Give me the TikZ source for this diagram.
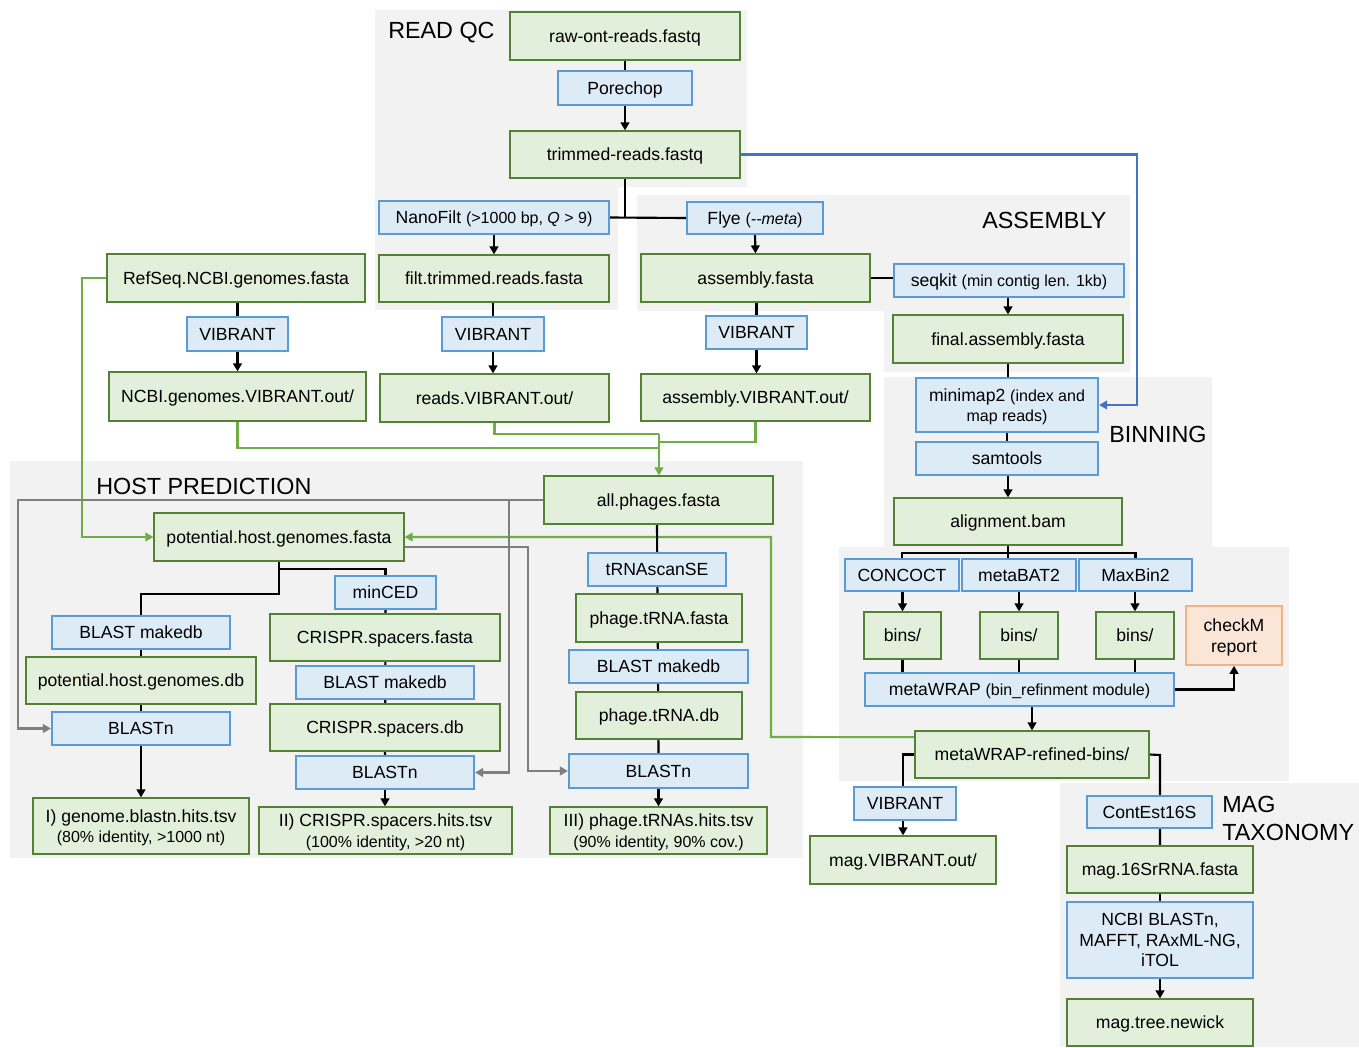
\documentclass[tikz,border=0pt]{standalone}
\usepackage{fontspec}
\setmainfont{Liberation Sans}
\usetikzlibrary{arrows.meta,calc}
\definecolor{gfill}{HTML}{E2EFDA}
\definecolor{gdraw}{HTML}{548235}
\definecolor{bfill}{HTML}{DDEBF7}
\definecolor{bdraw}{HTML}{5B9BD5}
\definecolor{bggray}{HTML}{F2F2F2}
\definecolor{gline}{HTML}{70AD47}
\definecolor{greyline}{HTML}{7F7F7F}
\definecolor{bline}{HTML}{4472C4}
\definecolor{ofill}{HTML}{FBE5D6}
\definecolor{odraw}{HTML}{F4B183}
\newcommand\smtxt{\fontsize{12}{14}\selectfont}
\pgfdeclarelayer{bglayer}
\pgfdeclarelayer{connlayer}
\pgfsetlayers{bglayer,connlayer,main}
\begin{document}
\begin{tikzpicture}[x=0.75pt,y=-0.75pt,
  nbase/.style={rectangle, inner sep=0pt, align=center, text depth=0pt, font=\fontsize{13.2}{15.5}\selectfont, text=black},
  gn/.style={nbase, fill=gfill, draw=gdraw, line width=0.9pt},
  bn/.style={nbase, fill=bfill, draw=bdraw, line width=1.6pt},
  onode/.style={nbase, fill=ofill, draw=odraw, line width=1.2pt},
  wh/.style 2 args={minimum width=#1*0.75pt, minimum height=#2*0.75pt},
  ttl/.style={anchor=west, inner sep=0pt, font=\fontsize{17.5}{21}\selectfont, align=left},
  conn/.style={line width=1.6pt, black},
  arr/.style={-{Triangle[length=6pt,width=6.5pt]}},
  gc/.style={line width=1.6pt, gline},
  gy/.style={line width=1.6pt, greyline},
  bc/.style={line width=1.6pt, bline},
]
\useasboundingbox (0,0) rectangle (1359,1047);
% backgrounds
\begin{pgfonlayer}{bglayer}
\fill[white] (0,0) rectangle (1359,1047);
\fill[bggray] (375,10) -- (747,10) -- (747,187) -- (618,187) -- (618,310) -- (375,310) -- cycle;
\fill[bggray] (637,195) -- (1130,195) -- (1130,372) -- (884,372) -- (884,311) -- (637,311) -- cycle;
\fill[bggray] (884,377) -- (1212,377) -- (1212,547) -- (1289,547) -- (1289,781) -- (839,781) -- (839,547) -- (884,547) -- cycle;
\fill[bggray] (10,461) rectangle (803,858);
\fill[bggray] (1060,783) rectangle (1359,1047);
\end{pgfonlayer}
% titles
\node[ttl] (tqc) at (388,33) {READ QC};
\node[ttl] (tasm) at (982,220) {ASSEMBLY};
\node[ttl] (tbin) at (1109,434) {BINNING};
\node[ttl] (thost) at (96,486) {HOST PREDICTION};
\node[ttl, font=\fontsize{17.5}{21}\selectfont] (tmag) at (1222,818) {MAG\\TAXONOMY};
% read QC / assembly
\node[gn, wh={230}{48}] (raw) at (625,36) {raw-ont-reads.fastq};
\node[bn, wh={134}{34}] (pore) at (625,88) {Porechop};
\node[gn, wh={230}{47}] (trim) at (625,154.5) {trimmed-reads.fastq};
\node[bn, wh={230}{33}] (nano) at (494,217.5) {NanoFilt {\smtxt(>1000 bp, \textit{Q} > 9)}};
\node[gn, wh={230}{47}] (filt) at (494,278.5) {filt.trimmed.reads.fasta};
\node[bn, wh={136}{32}] (flye) at (755,218) {Flye {\smtxt(\textit{-{}-meta})}};
\node[gn, wh={229}{48}] (asm) at (755.5,278) {assembly.fasta};
\node[bn, wh={230}{33}] (seqkit) at (1009,280.5) {seqkit {\smtxt(min contig len. 1kb)}};
\node[gn, wh={230}{48}] (final) at (1008,339) {final.assembly.fasta};
\node[bn, wh={101}{33}] (vibA) at (756.5,332.5) {VIBRANT};
\node[gn, wh={229}{47}] (asmV) at (755.5,397.5) {assembly.VIBRANT.out/};
\node[gn, wh={258}{48}] (refseq) at (236,278) {RefSeq.NCBI.genomes.fasta};
\node[bn, wh={101}{34}] (vibR) at (237.5,334) {VIBRANT};
\node[gn, wh={257}{49}] (ncbiV) at (237.5,396.5) {NCBI.genomes.VIBRANT.out/};
\node[bn, wh={102}{34}] (vibF) at (493,334) {VIBRANT};
\node[gn, wh={229}{48}] (readsV) at (494.5,398) {reads.VIBRANT.out/};
% host prediction
\node[gn, wh={229}{48}] (allph) at (658.5,500) {all.phages.fasta};
\node[gn, wh={250}{48}] (pot) at (279,537) {potential.host.genomes.fasta};
\node[bn, wh={101}{33}] (minced) at (385.5,592.5) {minCED};
\node[gn, wh={230}{47}] (crf) at (385,637.5) {CRISPR.spacers.fasta};
\node[bn, wh={178}{33}] (mkdbC) at (385,682.5) {BLAST makedb};
\node[gn, wh={230}{47}] (crdb) at (385,727.5) {CRISPR.spacers.db};
\node[bn, wh={178}{33}] (blnC) at (385,772.5) {BLASTn};
\node[gn, wh={253}{47}] (hitsC) at (385.5,830.5) {II) CRISPR.spacers.hits.tsv\\{\smtxt(100\% identity, >20 nt)}};
\node[bn, wh={178}{33}] (mkdbL) at (141,632.5) {BLAST makedb};
\node[gn, wh={230}{47}] (potdb) at (141,680.5) {potential.host.genomes.db};
\node[bn, wh={178}{33}] (blnL) at (141,728.5) {BLASTn};
\node[gn, wh={216}{56}] (hitsL) at (141,826) {I) genome.blastn.hits.tsv\\{\smtxt(80\% identity, >1000 nt)}};
\node[bn, wh={138}{33}] (trna) at (657,569.5) {tRNAscanSE};
\node[gn, wh={166}{48}] (trf) at (659,618) {phage.tRNA.fasta};
\node[bn, wh={179}{33}] (mkdbP) at (658.5,666.5) {BLAST makedb};
\node[gn, wh={166}{47}] (trdb) at (659,715.5) {phage.tRNA.db};
\node[bn, wh={179}{34}] (blnP) at (658.5,771) {BLASTn};
\node[gn, wh={217}{47}] (hitsP) at (658.5,830.5) {III) phage.tRNAs.hits.tsv\\{\smtxt(90\% identity, 90\% cov.)}};
% binning
\node[bn, wh={182}{54}] (mm2) at (1007,405) {minimap2 {\smtxt(index and}\\{\smtxt map reads)}};
\node[bn, wh={182}{33}] (sam) at (1007,458.5) {samtools};
\node[gn, wh={228}{47}] (bam) at (1008,521.5) {alignment.bam};
\node[bn, wh={114}{32}] (concoct) at (902,575) {CONCOCT};
\node[bn, wh={114}{32}] (metabat) at (1019,575) {metaBAT2};
\node[bn, wh={113}{32}] (maxbin) at (1135.5,575) {MaxBin2};
\node[gn, wh={77}{47}] (bins1) at (902.5,635.5) {bins/};
\node[gn, wh={78}{47}] (bins2) at (1019,635.5) {bins/};
\node[gn, wh={78}{47}] (bins3) at (1135,635.5) {bins/};
\node[bn, wh={309}{33}] (mwrap) at (1019.5,689.5) {metaWRAP {\smtxt(bin\_refinment module)}};
\node[onode, wh={96}{59}] (checkm) at (1234,635.5) {checkM\\report};
\node[gn, wh={234}{47}] (refined) at (1032,754.5) {metaWRAP-refined-bins/};
\node[bn, wh={102}{33}] (vibM) at (905,803.5) {VIBRANT};
\node[gn, wh={186}{48}] (magV) at (903,860) {mag.VIBRANT.out/};
% MAG taxonomy
\node[bn, wh={125}{32}] (contest) at (1149.5,812) {ContEst16S};
\node[gn, wh={186}{47}] (mag16) at (1160,869.5) {mag.16SrRNA.fasta};
\node[bn, wh={186}{76}] (ncbiB) at (1160,940) {NCBI BLASTn,\\MAFFT, RAxML-NG,\\iTOL};
\node[gn, wh={186}{47}] (tree) at (1160,1022.5) {mag.tree.newick};
% junction coordinates
\coordinate (gj) at (659,434);
\coordinate (bj) at (1008,553);
\coordinate (rj) at (1160,755);
% connectors
\begin{pgfonlayer}{connlayer}
\draw[conn] (raw.south) -- (pore.north);
\draw[conn,arr] (pore.south) -- (trim.north);
\draw[conn] (trim.south) -- (trim.south |- nano.east);
\draw[conn] (nano.east) -- (flye.west);
\draw[conn,arr] (nano.south) -- (filt.north);
\draw[conn,arr] (flye.south) -- (asm.north);
\draw[conn] (asm.east) -- (asm.east -| seqkit.west);
\draw[conn,arr] (seqkit.south -| final.north) -- (final.north);
\draw[conn] (final.south) -- (mm2.north -| final.south);
\draw[conn] (asm.south -| vibA.north) -- (vibA.north);
\draw[conn,arr] (vibA.south) -- (asmV.north -| vibA.south);
\draw[conn] (refseq.south -| vibR.north) -- (vibR.north);
\draw[conn,arr] (vibR.south) -- (ncbiV.north -| vibR.south);
\draw[conn] (filt.south -| vibF.north) -- (vibF.north);
\draw[conn,arr] (vibF.south) -- (readsV.north -| vibF.south);
\draw[bc,arr] (trim.east) -- (1137,154.5) |- (mm2.east);
% green to all phages
\draw[gc] (readsV.south) |- (gj);
\draw[gc] (asmV.south) |- (659,442);
\draw[gc] (ncbiV.south) |- (659,448);
\draw[gc,arr] (gj) -- (allph.north -| gj);
\draw[gc,arr] (refseq.west) -- (82,278) |- (pot.west);
\draw[gc,arr] ([yshift=13pt]refined.west) -- (771,737) |- (pot.east);
% grey
\draw[gy,arr] (allph.west) -- (18,500) |- (blnL.west);
\draw[gy,arr] (509,500) |- (blnC.east);
\draw[gy,arr] ([yshift=-7.5pt]pot.east) -- (528,547) |- (blnP.west);
% host trees
\draw[conn] (pot.south) -- (279,569) -| (minced.north);
\draw[conn] (279,569) -- (279,594) -| (mkdbL.north);
\draw[conn] (minced.south) -- (blnC.north);
\draw[conn,arr] (blnC.south) -- (hitsC.north -| blnC.south);
\draw[conn] (mkdbL.south) -- (blnL.north);
\draw[conn,arr] (blnL.south) -- (hitsL.north);
\draw[conn] (allph.south -| trna.north) -- (blnP.north);
\draw[conn,arr] (blnP.south) -- (hitsP.north);
% binning
\draw[conn] (mm2.south) -- (sam.north);
\draw[conn,arr] (sam.south -| bam.north) -- (bam.north);
\draw[conn] (bam.south) -- (bam.south |- metabat.north);
\draw[conn] (concoct.north) |- (bj) -| (maxbin.north);
\draw[conn,arr] (concoct.south -| bins1.north) -- (bins1.north);
\draw[conn,arr] (metabat.south) -- (bins2.north);
\draw[conn,arr] (maxbin.south -| bins3.north) -- (bins3.north);
\draw[conn] (bins1.south) -- (bins1.south |- mwrap.north);
\draw[conn] (bins2.south) -- (bins2.south |- mwrap.north);
\draw[conn] (bins3.south) -- (bins3.south |- mwrap.north);
\draw[conn,arr] (mwrap.east) -| (checkm.south);
\draw[conn,arr] (refined.north |- mwrap.south) -- (refined.north);
\draw[conn] (refined.west) -| (903,787);
\draw[conn,arr] (903,820) -- (magV.north);
\draw[conn] (refined.east) -- (rj) -- (mag16.north);
\draw[conn] (mag16.south) -- (ncbiB.north);
\draw[conn,arr] (ncbiB.south) -- (tree.north);
\end{pgfonlayer}
\end{tikzpicture}
\end{document}
